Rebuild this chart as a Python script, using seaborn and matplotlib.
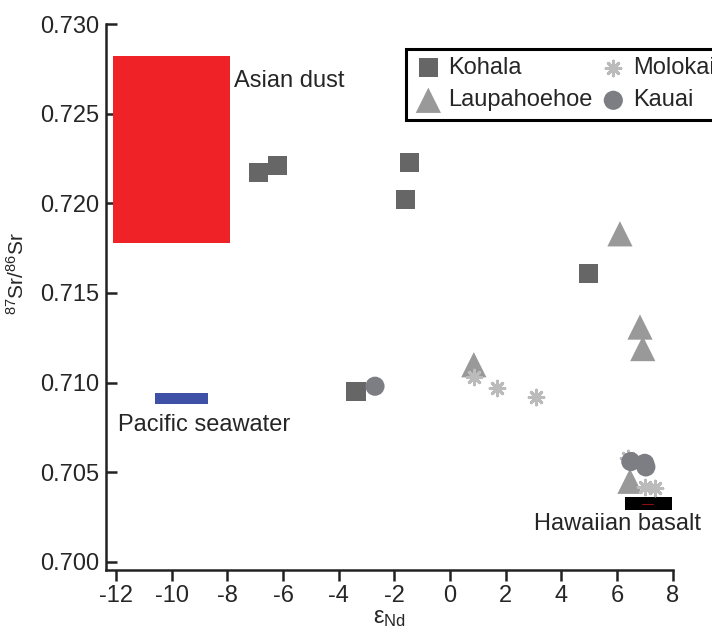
import matplotlib
matplotlib.use("Agg")
import matplotlib.pyplot as plt
from matplotlib.patches import Rectangle
import seaborn as sns
import pandas as pd

# ---- data ----
kohala_x = [-6.9, -6.2, -1.45, -1.6, 4.98, -3.38]
kohala_y = [0.7217, 0.7221, 0.7223, 0.7202, 0.7161, 0.7095]
laup_x = [6.10, 6.82, 6.92, 0.85, 6.46]
laup_y = [0.7183, 0.7131, 0.7119, 0.7110, 0.7045]
molokai_x = [0.85, 1.68, 3.08, 6.38, 7.0, 7.35]
molokai_y = [0.7103, 0.7097, 0.7092, 0.7058, 0.7042, 0.7041]
kauai_x = [-2.70, 6.49, 6.99, 7.03]
kauai_y = [0.7098, 0.7056, 0.7055, 0.7053]

# end-member fields: x0, x1, y0, y1
dust_box = [-12.1, -7.9, 0.7178, 0.7282]
seawater_box = [-10.6, -8.7, 0.7088, 0.7094]
basalt_box = [6.28, 7.97, 0.7029, 0.7036]

x_ticks = [-12, -10, -8, -6, -4, -2, 0, 2, 4, 6, 8]
y_ticks = [0.700, 0.705, 0.710, 0.715, 0.720, 0.725, 0.730]

sns.set_style("ticks")
plt.rcParams['font.family'] = ['Liberation Sans', 'DejaVu Sans']
plt.rcParams['mathtext.fontset'] = 'custom'
plt.rcParams['mathtext.rm'] = 'Liberation Sans'
plt.rcParams['mathtext.it'] = 'Liberation Sans:italic'

fig = plt.figure(figsize=(7.12, 6.34), dpi=100)
ax = fig.add_axes([0.149, 0.1009, 0.796, 0.8612])

# field rectangles
ax.add_patch(Rectangle((dust_box[0], dust_box[2]), dust_box[1]-dust_box[0], dust_box[3]-dust_box[2],
                       facecolor='#ee2227', edgecolor='none', zorder=1))
ax.add_patch(Rectangle((seawater_box[0], seawater_box[2]), seawater_box[1]-seawater_box[0],
                       seawater_box[3]-seawater_box[2], facecolor='#3f51a6', edgecolor='none', zorder=1))
ax.add_patch(Rectangle((basalt_box[0], basalt_box[2]), basalt_box[1]-basalt_box[0],
                       basalt_box[3]-basalt_box[2], facecolor='black', edgecolor='none', zorder=1))
ax.plot([6.9, 7.3], [0.70325, 0.70325], color='#8b1010', lw=0.8, zorder=1.5)

groups = [
    ("Kohala", kohala_x, kohala_y, 's', '#666666', 190, 0),
    ("Laupahoehoe", laup_x, laup_y, '^', '#999999', 330, 0),
    ("Molokai", molokai_x, molokai_y, (8, 2, 0), '#bbbbbb', 110, 2.2),
    ("Kauai", kauai_x, kauai_y, 'o', '#7d7d84', 190, 0),
]
for name, xs, ys, mk, col, size, lw in groups:
    df = pd.DataFrame({'x': xs, 'y': ys})
    if lw:
        sns.scatterplot(data=df, x='x', y='y', marker=mk, color=col, s=size,
                        linewidth=lw, ax=ax, label=name, zorder=3)
    else:
        sns.scatterplot(data=df, x='x', y='y', marker=mk, color=col, s=size,
                        edgecolor='none', ax=ax, label=name, zorder=3)

ax.text(-7.75, 0.7268, "Asian dust", fontsize=17, ha='left', va='center')
ax.text(-11.93, 0.70762, "Pacific seawater", fontsize=17, ha='left', va='center')
ax.text(3.02, 0.70210, "Hawaiian basalt", fontsize=17, ha='left', va='center')

ax.set_xlim(-12.36, 8)
ax.set_ylim(0.69955, 0.730)
ax.set_xticks(x_ticks)
ax.set_xticklabels([str(t) for t in x_ticks])
ax.set_yticks(y_ticks)
ax.set_yticklabels([f"{t:.3f}" for t in y_ticks])
ax.tick_params(axis='x', labelsize=17, length=8, width=1.8, color='#222222', pad=3, direction='out')
ax.tick_params(axis='y', labelsize=17, length=8, width=1.8, color='#222222', pad=5, direction='in')
for sp in ['top', 'right']:
    ax.spines[sp].set_visible(False)
for sp in ['left', 'bottom']:
    ax.spines[sp].set_linewidth(1.8)
    ax.spines[sp].set_color('#222222')

ax.set_xlabel(r"$\mathregular{ε_{Nd}}$", fontsize=17, labelpad=0)
ax.set_ylabel(r"$\mathregular{^{87}Sr/^{86}Sr}$", fontsize=15)
ax.yaxis.set_label_coords(-0.138, 0.544)

leg = ax.legend(loc='upper left', bbox_to_anchor=(0.529, 0.955), borderaxespad=0,
                ncol=2, fontsize=17, frameon=True, fancybox=False, handletextpad=0.22,
                columnspacing=0.3, labelspacing=0.45, borderpad=0.35, handlelength=1.2)
leg.get_frame().set_edgecolor('black')
leg.get_frame().set_linewidth(2.2)
leg.get_frame().set_alpha(1)

fig.savefig("out.png", dpi=100)
